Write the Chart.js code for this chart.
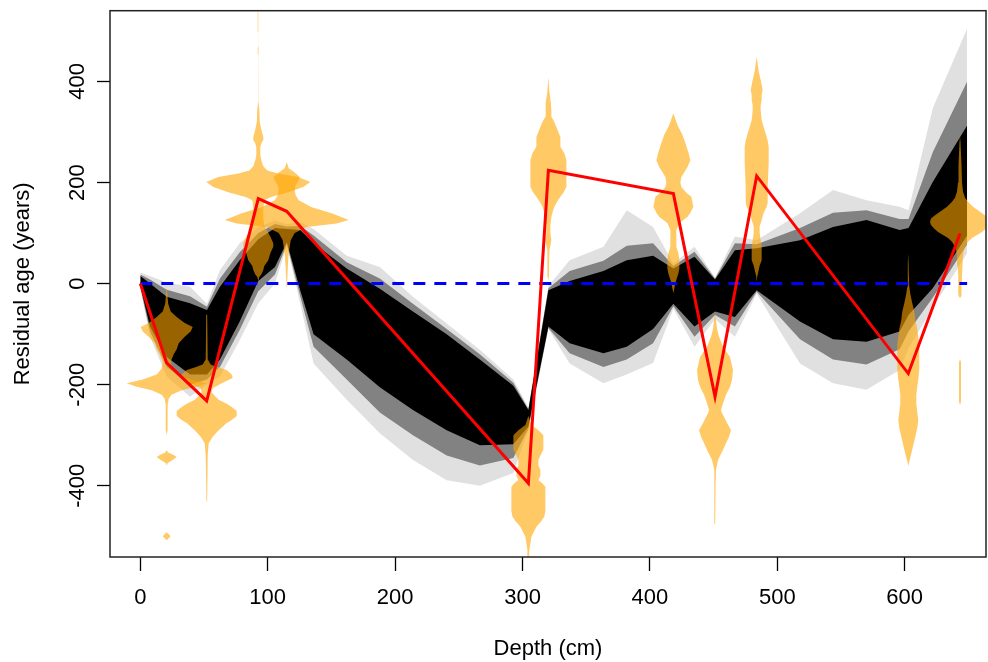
<!DOCTYPE html>
<html>
<head>
<meta charset="utf-8">
<script src="https://cdn.jsdelivr.net/npm/chart.js@4.4.0/dist/chart.umd.min.js"></script>
<style>
  html, body { margin: 0; padding: 0; background: #fff; }
</style>
</head>
<body>
<canvas id="chart" width="988" height="662"></canvas>
<script>
const depthTicks = [0, 100, 200, 300, 400, 500, 600];
const ageTicks = [-400, -200, 0, 200, 400];

// red line: residuals of the dates
const modelDepth = [0, 20.7, 52.1, 92.6, 114.9, 304.6, 320.3, 418.4, 451.1, 483.8, 602.8, 643.4];
const modelResidual = [0, -157, -232, 168, 143, -395, 224, 178, -224, 213, -178, 99];

// ensemble of age-depth runs, read as envelopes (faint edge, grey, solid core)
const ensDepth   = [0, 7.6, 20.7, 39, 52.3, 62.5, 78, 92.6, 105.7, 115, 125.5, 136, 162, 188, 214, 240.5, 266.5, 292.8, 304.6, 320.3, 337, 363.5, 381.8, 402.5, 418.4, 435, 451.1, 466.7, 483.8, 517.8, 543.7, 570, 596, 603, 622, 649];
const ensOuterHi = [22, 15, 2, -6, -40, 27, 80, 112, 125, 118, 122, 108, 55, 33, -26, -79, -131, -190, -245, -5, 46, 73, 145, 112, 40, 73, 12, 93, 86, 139, 185, 165, 152, 145, 347, 505];
const ensMidHi   = [18, 8, -12, -25, -46, 10, 62, 100, 118, 113, 114, 95, 42, 10, -40, -90, -140, -196, -248, -9, 25, 45, 75, 80, 35, 63, 10, 80, 78, 110, 140, 145, 128, 128, 260, 400];
const ensCoreHi  = [15, 0, -26, -39, -52, -6, 46, 88, 110, 108, 106, 80, 30, -10, -55, -100, -150, -202, -250, -13, 5, 25, 46, 55, 30, 53, 8, 66, 70, 86, 112, 126, 106, 110, 201, 313];
const ensCoreLo  = [-5, -85, -145, -180, -180, -150, -75, 5, 33, 82, -13, -100, -150, -205, -250, -290, -320, -318, -283, -85, -118, -138, -125, -90, -40, -85, -55, -66, -13, -75, -110, -115, -95, -62, -9, 95];
const ensMidLo   = [-8, -95, -165, -200, -190, -165, -92, -15, 18, 78, -25, -125, -190, -255, -300, -340, -360, -345, -287, -88, -138, -165, -150, -118, -45, -105, -62, -85, -16, -110, -150, -160, -130, -95, -28, 78];
const ensOuterLo = [-10, -105, -184, -224, -200, -184, -112, -39, 0, 75, -40, -158, -230, -296, -349, -389, -400, -375, -290, -90, -158, -197, -180, -157, -50, -125, -70, -105, -20, -158, -197, -210, -171, -128, -48, 60];

// calibrated date distributions: [residual age, relative density]
const dateDepths = [20.7, 52.1, 92.6, 114.9, 304.6, 320.3, 418.4, 451.1, 483.8, 602.8, 643.4];
const violinA = [[-5,0],[-40,1.5],[-55,4],[-66,10],[-78,18],[-86,26],[-95,24],[-105,18],[-118,12],[-130,10],[-140,7],[-155,4],[-168,5],[-180,10],[-190,24],[-197,40],[-204,30],[-211,15],[-220,5],[-228,2],[-240,1],[-290,0.8],[-300,0],[-330,0],[-334,1.5],[-338,6],[-343,10],[-349,6],[-355,1],[-360,0],[-492,0],[-496,2],[-500,4],[-504,2],[-508,0]];
const violinB = [[-60,0],[-62,0.5],[-150,1],[-160,4],[-166,12],[-171,20],[-180,25],[-187,26],[-197,15],[-207,6],[-215,5],[-222,8],[-230,12],[-238,20],[-244,25],[-252,30],[-262,30],[-270,25],[-276,20],[-290,12],[-303,6],[-316,2],[-340,1],[-428,0.5],[-432,0]];
const violinC = [[540,0],[536,0.6],[500,0.6],[496,0],[470,0],[466,0.6],[455,0.6],[452,0],[360,0],[345,1],[320,1.5],[305,3],[297,4],[290,5],[284,5],[277,3],[270,2],[255,2],[244,3],[232,5],[224,9],[218,20],[211,40],[201,52],[191,45],[181,30],[171,12],[165,6],[150,5],[130,5],[115,6],[100,10],[93,12],[80,15],[73,15],[60,12],[46,10],[35,6],[27,5],[18,3],[13,1],[5,0]];
const violinD = [[240,0],[228,2],[220,8],[211,13],[204,12],[195,9],[185,8],[175,9],[165,12],[151,25],[139,45],[126,62],[119,50],[112,20],[100,8],[86,4],[60,2],[30,1],[0,0.5],[-10,0]];
const violinE = [[-262,0],[-280,3],[-290,10],[-300,15],[-310,15],[-329,15],[-340,12],[-349,10],[-360,10],[-369,12],[-380,12],[-389,10],[-395,14],[-402,17],[-428,17],[-450,17],[-461,16],[-470,13],[-481,8],[-501,3],[-527,1],[-548,0.5]];
const violinF = [[409,0],[380,1],[357,2.5],[340,3],[330,3],[320,6],[310,8],[290,12],[271,12],[258,16],[244,18],[218,18],[191,18],[180,15],[172,12],[160,8],[152,6],[140,4],[132,3],[115,2],[100,2],[86,3],[75,2],[66,1],[13,0.5],[5,0]];
const violinG = [[337,0],[320,3],[310,5],[295,9],[278,12],[260,15],[244,17],[230,14],[224,12],[211,8],[200,7],[191,8],[180,13],[172,18],[152,20],[140,17],[132,14],[120,6],[106,3],[90,3],[73,3],[60,5],[46,6],[30,6],[20,5],[1,2],[-19,0]];
const violinH = [[-60,0],[-72,1],[-90,2],[-105,4],[-125,8],[-145,15],[-171,18],[-191,17],[-204,15],[-220,11],[-237,8],[-250,6],[-256,7],[-276,12],[-290,16],[-303,14],[-320,10],[-329,8],[-349,3],[-369,1],[-400,0.5],[-474,0.5],[-478,0]];
const violinI = [[449,0],[420,2],[403,4],[393,5],[383,6],[373,5],[363,5],[353,4],[343,4],[323,5],[310,7],[297,9],[283,11],[271,12],[238,12],[191,11],[160,11],[152,10],[140,7],[126,5],[113,3],[100,3],[86,4],[73,5],[60,5],[46,5],[36,3],[27,2],[13,0.5],[5,0]];
const violinJ = [[60,0],[40,0.5],[20,0.5],[-6,1],[-20,2],[-39,4],[-55,6],[-72,7],[-90,9],[-105,10],[-120,11],[-138,11],[-171,11],[-190,10],[-204,9],[-220,8],[-237,8],[-255,9],[-270,10],[-285,9],[-303,7],[-320,5],[-336,3],[-356,0.5],[-362,0]];
const violinK = [[290,0],[280,0.5],[234,1.5],[200,2],[182,3],[170,5],[162,8],[152,13],[142,20],[135,25],[129,29],[122,30],[116,29],[109,26],[102,22],[96,17],[90,12],[83,8],[76,6],[66,4],[56,3],[36,2.5],[17,2],[-5,1.5],[-23,1.5],[-29,0],[-150,0],[-155,1],[-234,1],[-240,0]];
const violins = [violinA, violinB, violinC, violinD, violinE, violinF, violinG, violinH, violinI, violinJ, violinK];
const violinScale = 0.785; // density units -> cm of depth

const FONT = '"Liberation Sans", Arial, Helvetica, sans-serif';

function pts(xs, ys){
    return xs.map((x,i)=>({x: x, y: ys[i]}));
}

function violinShape(depth, prof){
    const right = prof.map(p => ({x: depth + p[1]*violinScale, y: p[0]}));
    const left = prof.slice().reverse().map(p => ({x: depth - p[1]*violinScale, y: p[0]}));
    return right.concat(left);
}

const datasets = [];

// band pairs: upper fills to the lower one (absolute index)
function band(hi, lo, color, order){
    const idx = datasets.length;
    datasets.push({data: pts(ensDepth, hi), fill: idx + 1, backgroundColor: color, borderWidth: 0, order: order});
    datasets.push({data: pts(ensDepth, lo), fill: false, borderWidth: 0, order: order});
}
band(ensOuterHi, ensOuterLo, "rgba(0,0,0,0.12)", 12);
band(ensMidHi, ensMidLo, "rgba(0,0,0,0.42)", 11);
band(ensCoreHi, ensCoreLo, "#000", 10);

violins.forEach((v,i)=>{
    datasets.push({
        data: violinShape(dateDepths[i], v),
        fill: "shape",
        backgroundColor: "rgba(255,165,0,0.6)",
        borderWidth: 0,
        order: 5
    });
});

datasets.push({
    data: [{x: 0, y: 0}, {x: 649, y: 0}],
    borderColor: "#0000ff", borderWidth: 3, borderDash: [12, 9], fill: false, order: 2
});

datasets.push({
    data: pts(modelDepth, modelResidual),
    borderColor: "#ff0000", borderWidth: 3, fill: false, order: 1
});

datasets.forEach(d=>{
    d.showLine = true;
    d.pointRadius = 0;
    d.tension = 0;
    d.borderJoinStyle = "miter";
});

const boxPlugin = {
    id: "box",
    afterDraw(chart){
        const {ctx, chartArea: a} = chart;
        ctx.save();
        ctx.strokeStyle = "#222";
        ctx.lineWidth = 1.5;
        ctx.strokeRect(a.left, a.top, a.right - a.left, a.bottom - a.top);
        ctx.restore();
    }
};

new Chart(document.getElementById("chart"), {
    type: "scatter",
    data: { datasets: datasets },
    plugins: [boxPlugin],
    options: {
        responsive: false,
        animation: false,
        events: [],
        layout: { padding: { left: 0, right: 2, top: 10.7, bottom: 0 } },
        plugins: { legend: { display: false }, tooltip: { enabled: false } },
        scales: {
            x: {
                type: "linear",
                min: -23.8, max: 663.8,
                afterBuildTicks: s => { s.ticks = depthTicks.map(v => ({value: v})); },
                afterFit: s => { s.height = 105; },
                grid: { drawOnChartArea: false, drawTicks: true, tickLength: 14, tickWidth: 1.3, tickColor: "#000" },
                border: { display: false },
                ticks: { color: "#000", font: { family: FONT, size: 22 }, padding: 14, maxRotation: 0, autoSkip: false },
                title: { display: true, text: "Depth (cm)", color: "#000", font: { family: FONT, size: 22 }, padding: { top: 0, bottom: 0 } }
            },
            y: {
                type: "linear",
                min: -541, max: 540,
                afterBuildTicks: s => { s.ticks = ageTicks.map(v => ({value: v})); },
                afterFit: s => { s.width = 110; },
                grid: { drawOnChartArea: false, drawTicks: true, tickLength: 13, tickWidth: 1.3, tickColor: "#000" },
                border: { display: false },
                ticks: { color: "#000", font: { family: FONT, size: 22 }, padding: -3, minRotation: 90, maxRotation: 90, crossAlign: "center", autoSkip: false },
                title: { display: true, text: "Residual age (years)", color: "#000", font: { family: FONT, size: 22 }, padding: { top: 10, bottom: 0 } }
            }
        }
    }
});
</script>
</body>
</html>
